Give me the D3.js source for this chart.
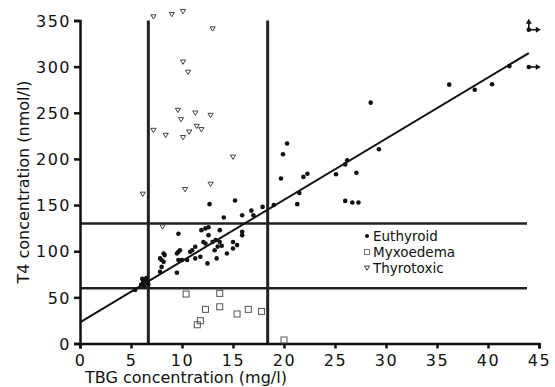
<!DOCTYPE html>
<html><head><meta charset="utf-8">
<script src="https://cdn.jsdelivr.net/npm/d3@7"></script>
<style>
body{margin:0;background:#fff;}
text{font-family:"DejaVu Sans",sans-serif;fill:#111;}
</style></head>
<body><svg id="c" width="555" height="387"></svg>
<script>
// ---- data ----
const euthyroid = [
 [5.4,58],[6.0,64],[6.2,67],[6.4,69],[6.6,66],[6.3,62],[6.5,71],[6.1,70],[6.7,64],
 [7.85,77.7],[8.0,83],[9.5,76.6],
 [7.85,92.2],[8.0,90.4],[8.2,88.5],[8.2,97.6],[8.3,95.8],
 [9.65,90.4],[10,90.4],[10.5,90.4],[9.5,97.6],[9.65,99.4],[9.8,101],
 [10.8,99.4],[11.0,101],[11.3,104.8],[11.8,94],[11.3,92.2],[12.5,86.8],
 [13.2,101],[13.4,92.2],[14.4,97.6],
 [12.1,110],[12.3,108.4],[13,110],[13.3,112],[13.7,110],[13.9,106],[13.5,105],
 [15,110],[15.4,106.6],[15,103],
 [12.6,126],[12.3,124.7],[11.9,122.8],[9.65,119],[12.6,117.4],[13.7,122.8],[15.9,121],[15.9,117.4],
 [14.1,136.6],[15.9,139],[16.8,144],[17,139],[17.9,148],[12.7,151],[15.2,155],[19,150],
 [19.7,178.8],[19.9,205],[20.3,216.7],[21.9,180.5],[22.3,184],[21.5,163],[21.3,151],
 [25.1,183.4],[26,194],[26.2,198.6],[27.1,185],[29.3,210.5],[26,154.5],[26.7,152.8],[27.3,152.8],
 [28.5,261],[36.2,280.5],[38.7,275],[40.4,281],[42.1,300.6],[44,299.6],[44,340]
];
const myxoedema = [
 [10.4,53.6],[13.7,54.3],[12.3,37],[13.7,39.8],[15.4,32],[16.5,37],[17.8,34.8],
 [11.8,24.7],[11.5,20.3],[20,3.8]
];
const thyrotoxic = [
 [7.2,354],[9,356.6],[10.1,359.8],[13,341],[10.1,305],[10.6,294],
 [9.6,252.7],[11.3,249.8],[12.8,247.3],[9.9,242.6],[7.2,231],[8.4,225.6],
 [10.1,223.2],[10.7,229.2],[11.45,235.4],[11.9,231.8],[15,202],
 [10.3,166.9],[12.8,172.6],[6.15,161.8],[8.1,126.4]
];
// points beyond the axis range, drawn with arrows: [x, y, up?]
const offScale = [[44,299.6,false],[44,340,true]];
const regression = {intercept: 23, slope: 6.63, xMax: 44};
const tbgLimits = [6.7, 18.4];
const t4Limits = [60, 130];
const xTicks = [0,5,10,15,20,25,30,35,40,45];
const yTicks = [0,50,100,150,200,250,300,350];
const legendLabels = ["Euthyroid","Myxoedema","Thyrotoxic"];
const xTitle = "TBG concentration (mg/l)";
const yTitle = "T4 concentration (nmol/l)";

// ---- drawing ----
const svg = d3.select("#c");
const x = d3.scaleLinear().domain([0,45]).range([80,539]);
const y = d3.scaleLinear().domain([0,350]).range([343.5,20.5]);

// reference lines
svg.selectAll(".vl").data(tbgLimits).join("line")
  .attr("x1",d=>x(d)).attr("x2",d=>x(d)).attr("y1",y(0)).attr("y2",y(350))
  .attr("stroke","#222").attr("stroke-width",3);
svg.selectAll(".hl").data(t4Limits).join("line")
  .attr("x1",x(0)).attr("x2",527).attr("y1",d=>y(d)).attr("y2",d=>y(d))
  .attr("stroke","#222").attr("stroke-width",2.5);

// axes
const xAxis = svg.append("g").attr("transform",`translate(0,${y(0)})`)
  .call(d3.axisBottom(x).tickValues(xTicks).tickSize(5).tickPadding(6).tickFormat(d3.format("d")));
const yAxis = svg.append("g").attr("transform",`translate(${x(0)},0)`)
  .call(d3.axisLeft(y).tickValues(yTicks).tickSize(6).tickPadding(3).tickFormat(d3.format("d")));
[xAxis,yAxis].forEach(g=>{
  g.select(".domain").attr("stroke","#111").attr("stroke-width",2.5);
  g.selectAll(".tick line").attr("stroke","#111").attr("stroke-width",2.5);
  g.selectAll("text").style("font-family","DejaVu Sans").style("font-size","16px")
   .style("letter-spacing","1.5px").attr("fill","#111");
});
yAxis.selectAll("text").attr("dy","0.36em");

// regression line
svg.append("line")
  .attr("x1",x(0)).attr("y1",y(regression.intercept))
  .attr("x2",x(regression.xMax)).attr("y2",y(regression.intercept+regression.slope*regression.xMax))
  .attr("stroke","#111").attr("stroke-width",2);

// points
svg.selectAll(".eu").data(euthyroid).join("circle")
  .attr("cx",d=>x(d[0])).attr("cy",d=>y(d[1])).attr("r",2.3).attr("fill","#111");
svg.selectAll(".my").data(myxoedema).join("rect")
  .attr("x",d=>x(d[0])-3).attr("y",d=>y(d[1])-3).attr("width",6).attr("height",6)
  .attr("fill","none").attr("stroke","#555").attr("stroke-width",1);
const tri = "M-2.6,-2 L2.6,-2 L0,2.3 Z";
svg.selectAll(".th").data(thyrotoxic).join("path")
  .attr("d",tri).attr("transform",d=>`translate(${x(d[0])},${y(d[1])})`)
  .attr("fill","none").attr("stroke","#444").attr("stroke-width",1);

// arrows for off-scale points
const arr = svg.append("g").attr("stroke","#111").attr("stroke-width",1.6).attr("fill","#111");
offScale.forEach(([a,b,up])=>{
  const px=x(a), py=y(b);
  arr.append("line").attr("x1",px).attr("y1",py).attr("x2",px+9).attr("y2",py);
  arr.append("path").attr("d",`M${px+12},${py} L${px+7},${py-3} L${px+7},${py+3} Z`).attr("stroke","none");
  if(up){
    arr.append("line").attr("x1",px).attr("y1",py).attr("x2",px).attr("y2",py-8);
    arr.append("path").attr("d",`M${px},${py-11} L${px-3},${py-6} L${px+3},${py-6} Z`).attr("stroke","none");
  }
});

// legend
const lg = svg.append("g").attr("transform","translate(367,236)");
legendLabels.forEach((t,i)=>{
  const gy = i*16;
  if(i===0) lg.append("circle").attr("cx",0).attr("cy",gy).attr("r",2).attr("fill","#111");
  if(i===1) lg.append("rect").attr("x",-2.5).attr("y",gy-2.5).attr("width",5).attr("height",5).attr("fill","none").attr("stroke","#777");
  if(i===2) lg.append("path").attr("d",tri).attr("transform",`translate(0,${gy})`).attr("fill","none").attr("stroke","#444");
  lg.append("text").attr("x",6).attr("y",gy).attr("dy","0.35em").style("font-size","13.5px").text(t);
});

// titles
svg.append("text").attr("x",85).attr("y",383).style("font-size","16px").text(xTitle);
svg.append("text").attr("transform","translate(29,182) rotate(-90)").attr("text-anchor","middle")
  .style("font-size","16px").text(yTitle);
</script></body></html>
